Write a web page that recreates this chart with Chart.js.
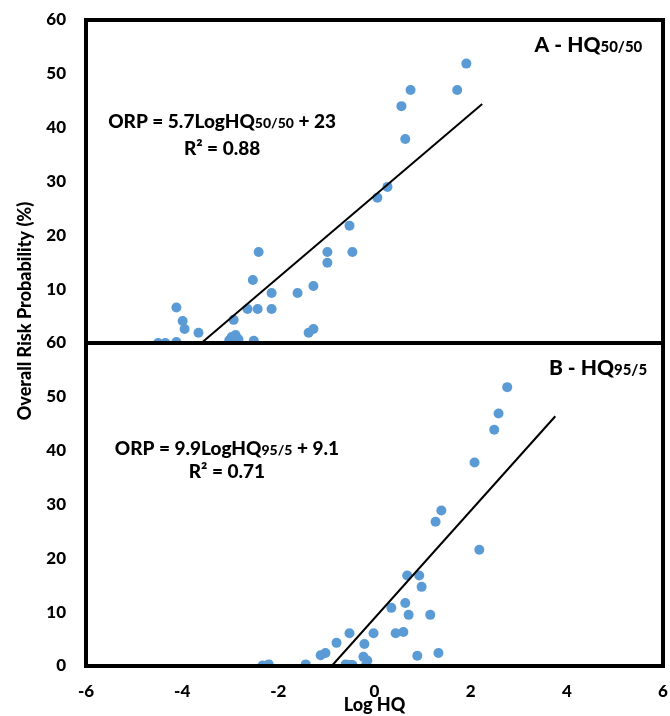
<!DOCTYPE html>
<html><head><meta charset="utf-8">
<script src="https://cdn.jsdelivr.net/npm/chart.js@4.4.0/dist/chart.umd.min.js"></script>
<style>html,body{margin:0;padding:0;background:#fff;}#wrap{width:670px;height:716px;position:relative;}</style>
</head><body><div id="wrap"><canvas id="c" width="670" height="716"></canvas></div>
<script>
// ---- tick labels ----
const xTicks = [-6, -4, -2, 0, 2, 4, 6];
const yTicks = [0, 10, 20, 30, 40, 50, 60];

// ---- texts ----
const xTitle = 'Log HQ';
const yTitle = 'Overall Risk Probability (%)';
const labelA = ['A - HQ', '50/50', ''];
const labelB = ['B - HQ', '95/5', ''];
const eqA = ['ORP = 5.7LogHQ', '50/50', ' + 23'];
const r2A = 'R² = 0.88';
const eqB = ['ORP = 9.9LogHQ', '95/5', ' + 9.1'];
const r2B = 'R² = 0.71';

// ---- Panel A: HQ50/50 ----
const aX = [-4.5, -4.35, -4.12, -4.12, -3.99, -3.95, -3.66, -2.93, -2.97, -2.89, -2.83, -3.02, -2.51, -2.64, -2.43, -2.14, -2.53, -2.41, -2.14, -1.6, -1.27, -1.37, -1.27, -0.98, -0.98, -0.52, -0.46, 0.06, 0.27, 0.64, 0.56, 0.75, 1.72, 1.91];
const aY = [0, 0, 0.2, 6.6, 4.1, 2.6, 1.9, 4.3, 1.1, 1.5, 0.7, 0.5, 0.4, 6.3, 6.3, 6.3, 11.7, 16.9, 9.3, 9.3, 10.6, 1.9, 2.6, 16.9, 14.9, 21.8, 16.9, 27.0, 29.0, 37.9, 44.0, 47.0, 47.0, 51.9];
const trendAX = [-3.6, 2.24];
const trendAY = [0, 44.4];

// ---- Panel B: HQ95/5 ----
const bX = [-2.33, -2.2, -1.43, -1.12, -1.02, -0.79, -0.52, -0.6, -0.52, -0.46, -0.23, -0.15, -0.17, -0.21, -0.02, 0.35, 0.64, 0.71, 0.44, 0.6, 0.89, 0.68, 0.93, 0.98, 1.16, 1.33, 1.27, 1.39, 2.18, 2.08, 2.49, 2.58, 2.76];
const bY = [0.1, 0.3, 0.3, 2.0, 2.4, 4.3, 6.1, 0.3, 0.2, 0.2, 1.7, 1.0, 0.3, 4.1, 6.1, 10.8, 11.7, 9.5, 6.1, 6.3, 1.9, 16.8, 16.8, 14.7, 9.5, 2.4, 26.8, 28.9, 21.6, 37.8, 43.9, 46.9, 51.8];
const trendBX = [-0.89, 3.76];
const trendBY = [0, 46.4];

const FONT = 'Lato, "Open Sans", sans-serif';
const W = '900';
const BLUE = '#5B9BD5';
const pts = (xs, ys) => xs.map((x, i) => ({x: x, y: ys[i]}));

function drawSub(ctx, parts, x, y, align, bigPx, smallPx) {
  const big = W + ' ' + bigPx + 'px ' + FONT;
  const small = W + ' ' + smallPx + 'px ' + FONT;
  ctx.font = big; const w0 = ctx.measureText(parts[0]).width;
  const w2 = ctx.measureText(parts[2]).width;
  ctx.font = small; const w1 = ctx.measureText(parts[1]).width;
  const total = w0 + w1 + w2;
  let sx = x;
  if (align === 'center') sx = x - total / 2;
  else if (align === 'right') sx = x - total;
  ctx.textAlign = 'left'; ctx.textBaseline = 'alphabetic'; ctx.fillStyle = '#000';
  ctx.font = big; ctx.fillText(parts[0], sx, y);
  ctx.font = small; ctx.fillText(parts[1], sx + w0, y);
  ctx.font = big; ctx.fillText(parts[2], sx + w0 + w1, y);
}

const decor = {
  id: 'decor',
  afterDatasetsDraw(chart) {
    const ctx = chart.ctx;
    const xs = chart.scales.x, ya = chart.scales.yA, yb = chart.scales.yB;
    ctx.save();
    ctx.strokeStyle = '#000';
    ctx.lineWidth = 4;
    ctx.strokeRect(xs.left, ya.top, xs.right - xs.left, ya.bottom - ya.top);
    ctx.strokeRect(xs.left, yb.top, xs.right - xs.left, yb.bottom - yb.top);
    // panel labels
    drawSub(ctx, labelA, xs.getPixelForValue(5.57), ya.getPixelForValue(54.1), 'right', 21, 15);
    drawSub(ctx, labelB, xs.getPixelForValue(5.67), yb.getPixelForValue(54.0), 'right', 21, 15);
    // equations
    drawSub(ctx, eqA, xs.getPixelForValue(-3.17), ya.getPixelForValue(39.9), 'center', 19, 14);
    drawSub(ctx, [r2A, '', ''], xs.getPixelForValue(-3.17), ya.getPixelForValue(34.9), 'center', 19, 14);
    drawSub(ctx, eqB, xs.getPixelForValue(-3.07), yb.getPixelForValue(39.2), 'center', 19, 14);
    drawSub(ctx, [r2B, '', ''], xs.getPixelForValue(-3.07), yb.getPixelForValue(34.9), 'center', 19, 14);
    // y title spanning both panels
    ctx.translate(25, 311);
    ctx.rotate(-Math.PI / 2);
    ctx.font = W + ' 18px ' + FONT;
    ctx.textAlign = 'center'; ctx.textBaseline = 'middle';
    ctx.fillText(yTitle, 0, 0);
    ctx.restore();
  }
};

const tickFont = {family: FONT, size: 17, weight: W};
const yScale = (weight, hideZero) => ({
  type: 'linear', position: 'left', stack: 'panels', stackWeight: 1, weight: weight,
  min: 0, max: 60,
  afterBuildTicks: s => { s.ticks = yTicks.map(v => ({value: v})); },
  ticks: {font: tickFont, color: '#000', padding: 0,
    callback: v => (hideZero && v === 0) ? '' : String(v)},
  grid: {display: false, drawTicks: true, tickLength: 20},
  border: {display: false},
  afterFit: s => { s.width = 86; }
});

new Chart(document.getElementById('c'), {
  data: {
    datasets: [
      {type: 'line', data: pts(trendAX, trendAY), yAxisID: 'yA', borderColor: '#000', borderWidth: 2, pointRadius: 0, fill: false},
      {type: 'line', data: pts(trendBX, trendBY), yAxisID: 'yB', borderColor: '#000', borderWidth: 2, pointRadius: 0, fill: false},
      {type: 'scatter', data: pts(aX, aY), yAxisID: 'yA', backgroundColor: BLUE, borderWidth: 0, pointRadius: 5, clip: 0},
      {type: 'scatter', data: pts(bX, bY), yAxisID: 'yB', backgroundColor: BLUE, borderWidth: 0, pointRadius: 5, clip: 0}
    ]
  },
  options: {
    responsive: false,
    animation: false,
    layout: {padding: {top: 20, right: 7, left: 0, bottom: 0}},
    plugins: {legend: {display: false}, tooltip: {enabled: false}},
    scales: {
      x: {
        type: 'linear', position: 'bottom', min: -6, max: 6,
        afterBuildTicks: s => { s.ticks = xTicks.map(v => ({value: v})); },
        ticks: {font: tickFont, color: '#000', padding: 0},
        grid: {display: false, drawTicks: true, tickLength: 15},
        border: {display: false},
        title: {display: true, text: xTitle, color: '#000', font: {family: FONT, size: 18, weight: W}, padding: {top: 0, bottom: 0}},
        afterFit: s => { s.height = 50; }
      },
      yA: yScale(2, true),
      yB: yScale(1, false)
    }
  },
  plugins: [decor]
});
</script>
</body></html>
